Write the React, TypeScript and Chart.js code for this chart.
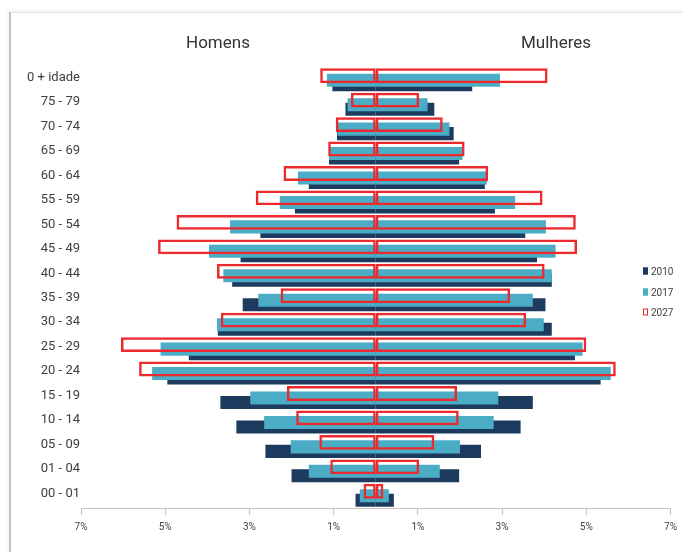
import { useEffect, useRef } from 'react';
import { Chart, registerables } from 'chart.js';

Chart.register(...registerables);

const CATEGORIES = [
  '0 + idade', '75 - 79', '70 - 74', '65 - 69', '60 - 64', '55 - 59',
  '50 - 54', '45 - 49', '40 - 44', '35 - 39', '30 - 34', '25 - 29',
  '20 - 24', '15 - 19', '10 - 14', '05 - 09', '01 - 04', '00 - 01',
];

// Homens (shown to the left, as magnitudes in %)
const MEN_2010 = [1.03, 0.72, 0.92, 1.11, 1.59, 1.92, 2.74, 3.21, 3.41, 3.16, 3.75, 4.44, 4.95, 3.69, 3.31, 2.62, 2.0, 0.48];
const MEN_2017 = [1.16, 0.67, 0.91, 1.11, 1.85, 2.28, 3.46, 3.96, 3.62, 2.79, 3.77, 5.11, 5.31, 2.98, 2.65, 2.02, 1.59, 0.38];
const MEN_2027 = [1.32, 0.59, 0.95, 1.13, 2.19, 2.85, 4.73, 5.17, 3.77, 2.26, 3.68, 6.05, 5.62, 2.11, 1.89, 1.34, 1.08, 0.29];

// Mulheres (shown to the right, in %)
const WOMEN_2010 = [2.29, 1.39, 1.85, 1.98, 2.59, 2.83, 3.55, 3.83, 4.18, 4.03, 4.18, 4.73, 5.34, 3.73, 3.44, 2.5, 1.98, 0.43];
const WOMEN_2017 = [2.95, 1.23, 1.75, 2.06, 2.64, 3.31, 4.04, 4.27, 4.18, 3.73, 3.99, 4.91, 5.58, 2.91, 2.8, 2.0, 1.52, 0.31];
const WOMEN_2027 = [4.08, 1.03, 1.59, 2.11, 2.67, 3.96, 4.75, 4.78, 4.01, 3.19, 3.57, 5.0, 5.7, 1.93, 1.97, 1.39, 1.03, 0.18];

const X_TICKS = [-7, -5, -3, -1, 1, 3, 5, 7];
const LEGEND_YEARS = ['2010', '2017', '2027'];
const SIDE_TITLES = ['Homens', 'Mulheres'];

const NAVY = '#1d3b5e';
const BLUE = '#4bacc6';
const RED = '#ec2a2e';
const FONT = 'Roboto, "Liberation Sans", Arial, sans-serif';

export default function App() {
  const ref = useRef<HTMLCanvasElement>(null);

  useEffect(() => {
    const neg = (a: number[]) => a.map((v) => -v);
    const red = {
      stack: '2027',
      backgroundColor: 'rgba(255,255,255,0)',
      borderColor: RED,
      borderWidth: 2.5,
      borderSkipped: false as const,
      barPercentage: 3.3,
    };
    const blue = { stack: '2017', backgroundColor: BLUE, borderWidth: 0, barPercentage: 2.9 };
    const navy = { stack: '2010', backgroundColor: NAVY, borderWidth: 0, barPercentage: 2.9 };
    const chart = new Chart(ref.current!, {
      type: 'bar',
      data: {
        labels: CATEGORIES,
        datasets: [
          { label: '2027', data: neg(MEN_2027), ...red },
          { label: '2027', data: WOMEN_2027, ...red },
          { label: '2017', data: neg(MEN_2017), ...blue },
          { label: '2017', data: WOMEN_2017, ...blue },
          { label: '2010', data: neg(MEN_2010), ...navy },
          { label: '2010', data: WOMEN_2010, ...navy },
        ] as any,
      },
      options: {
        indexAxis: 'y',
        responsive: false,
        animation: false,
        categoryPercentage: 0.553,
        layout: { padding: { left: 0, right: 10, top: 68, bottom: 14 } },
        plugins: {
          legend: { display: false },
          tooltip: { enabled: false },
        },
        scales: {
          x: {
            stacked: true,
            min: -7,
            max: 7,
            afterBuildTicks: (s: any) => {
              s.ticks = X_TICKS.map((v) => ({ value: v }));
            },
            afterFit: (s: any) => {
              s.height = 30;
            },
            grid: { drawOnChartArea: false, drawTicks: true, tickLength: 7, color: '#c4c4c4' },
            border: { display: true, color: '#c4c4c4', width: 1 },
            ticks: {
              callback: (v: any) => Math.abs(Number(v)) + '%',
              font: { family: FONT, size: 10 },
              color: '#404040',
              padding: 6,
              maxRotation: 0,
              autoSkip: false,
            },
          },
          y: {
            afterFit: (s: any) => {
              s.width = 81;
            },
            grid: { display: false, drawTicks: false },
            border: { display: false },
            ticks: {
              font: { family: FONT, size: 13 },
              color: '#404040',
              padding: 1,
              labelOffset: -2.5,
              autoSkip: false,
            },
          },
        },
      } as any,
    });
    return () => chart.destroy();
  }, []);

  const legendColors: Record<string, { bg: string; border: string }> = {
    '2010': { bg: NAVY, border: NAVY },
    '2017': { bg: BLUE, border: BLUE },
    '2027': { bg: '#ffffff', border: RED },
  };
  const legendY = [271, 292, 312];
  const titleX = [218, 556];

  return (
    <div style={{ position: 'fixed', left: 0, top: 0, width: 683, height: 552, background: '#fff', overflow: 'hidden' }}>
      <div
        style={{
          position: 'absolute',
          left: 9,
          top: 12,
          width: 700,
          height: 600,
          borderLeft: '2px solid #c2c2c2',
          borderTop: '1px solid #e2e2e2',
          boxShadow: '-1px -1px 3px rgba(0,0,0,0.08)',
        }}
      />
      <canvas ref={ref} width={683} height={552} style={{ position: 'absolute', left: 0, top: 0 }} />
      {SIDE_TITLES.map((t, i) => (
        <div
          key={t}
          style={{
            position: 'absolute',
            left: titleX[i],
            top: 42,
            transform: 'translate(-50%, -50%)',
            fontFamily: FONT,
            fontSize: 17,
            color: '#333',
            whiteSpace: 'nowrap',
          }}
        >
          {t}
        </div>
      ))}
      {LEGEND_YEARS.map((y, i) => (
        <div
          key={y}
          style={{
            position: 'absolute',
            left: 643,
            top: legendY[i],
            transform: 'translateY(-50%)',
            display: 'flex',
            alignItems: 'center',
            fontFamily: FONT,
            fontSize: 10,
            color: '#404040',
            whiteSpace: 'nowrap',
          }}
        >
          <span
            style={{
              display: 'inline-block',
              width: 5,
              height: 7,
              boxSizing: 'border-box',
              background: legendColors[y].bg,
              border: `1px solid ${legendColors[y].border}`,
              marginRight: 3,
            }}
          />
          {y}
        </div>
      ))}
    </div>
  );
}
